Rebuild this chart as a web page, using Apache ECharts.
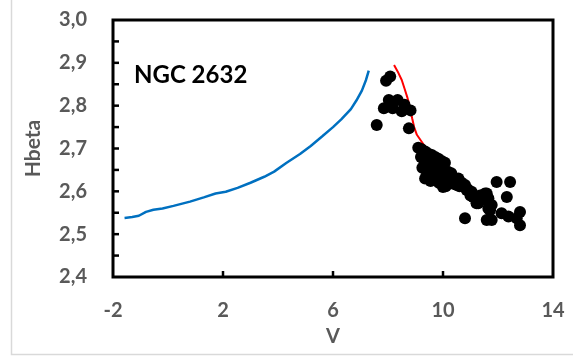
<!DOCTYPE html>
<html>
<head>
<meta charset="utf-8">
<script src="https://cdn.jsdelivr.net/npm/echarts@6/dist/echarts.min.js"></script>
<style>
  html, body { margin: 0; padding: 0; background: #ffffff; }
  #chart { width: 573px; height: 357px; }
</style>
</head>
<body>
<div id="chart"></div>
<script>
// Isochrone (blue) for the upper main sequence: V, Hbeta
const isochroneV = [-1.58, -1.30, -1.06, -0.80, -0.53, -0.20, 0.20, 0.80, 1.30, 1.73, 2.10, 2.53, 3.00, 3.50, 3.86, 4.30, 4.80, 5.19, 5.60, 6.00, 6.30, 6.65, 6.85, 7.05, 7.20, 7.30];
const isochroneH = [2.538, 2.540, 2.543, 2.552, 2.557, 2.560, 2.566, 2.576, 2.586, 2.595, 2.599, 2.608, 2.620, 2.634, 2.646, 2.666, 2.687, 2.706, 2.728, 2.750, 2.768, 2.792, 2.812, 2.835, 2.860, 2.882];

// ZAMS relation (red) shifted to the cluster distance
const zamsV = [8.22, 8.35, 8.50, 8.60, 8.70, 8.80, 8.88, 8.95, 9.05, 9.20, 9.50, 9.80, 10.07];
const zamsH = [2.895, 2.880, 2.860, 2.840, 2.820, 2.795, 2.770, 2.750, 2.732, 2.718, 2.690, 2.660, 2.630];

// Observed cluster members
const starV = [
  7.93, 8.08, 8.03, 8.35, 7.85, 8.17, 8.50, 8.82, 8.60, 7.59, 8.76,
  9.10, 9.22, 9.35, 9.47, 9.59, 9.71, 9.83, 9.95, 10.07,
  9.20, 9.32, 9.44, 9.56, 9.68, 9.80, 9.92, 10.04, 10.18, 10.30,
  9.25, 9.40, 9.55, 9.65, 9.78, 9.90, 10.02, 10.15, 10.28, 10.40,
  9.35, 9.55, 9.70, 9.85, 9.95, 10.10, 10.22, 10.35, 10.50, 10.60,
  9.42, 9.60, 9.75, 10.00, 10.45, 10.56, 10.68, 10.80, 10.90, 11.04, 11.16, 11.28, 11.35, 11.00,
  10.86, 11.10, 11.22, 11.53, 11.65, 11.77, 11.71,
  11.59, 11.65, 11.65, 11.95, 12.44, 12.32, 10.80, 11.59, 11.77, 12.13, 12.38, 12.68, 12.80, 12.80
];
const starH = [
  2.858, 2.868, 2.813, 2.813, 2.794, 2.794, 2.787, 2.789, 2.802, 2.755, 2.747,
  2.702, 2.698, 2.693, 2.688, 2.685, 2.680, 2.676, 2.671, 2.667,
  2.680, 2.672, 2.668, 2.664, 2.660, 2.656, 2.652, 2.650, 2.646, 2.642,
  2.655, 2.650, 2.647, 2.641, 2.638, 2.636, 2.633, 2.630, 2.628, 2.624,
  2.630, 2.624, 2.632, 2.620, 2.622, 2.612, 2.624, 2.618, 2.615, 2.612,
  2.640, 2.672, 2.648, 2.610, 2.630, 2.630, 2.620, 2.615, 2.605, 2.599, 2.585, 2.572, 2.590, 2.590,
  2.603, 2.587, 2.572, 2.595, 2.584, 2.568, 2.556,
  2.595, 2.576, 2.560, 2.622, 2.622, 2.587, 2.537, 2.533, 2.533, 2.549, 2.541, 2.537, 2.552, 2.521
];

// Axis ranges, label spacing and inward tick positions
const xRange = [-2, 14];
const xStep = 4;
const yRange = [2.4, 3.0];
const yStep = 0.1;
const xTickValues = [2, 6, 10];
const yTickValues = [2.45, 2.5, 2.55, 2.6, 2.65, 2.7, 2.75, 2.8, 2.85, 2.9, 2.95];

const pairs = (xs, ys) => xs.map((x, i) => [x, ys[i]]);

const FONT = 'Lato';
const GREY = '#595959';
const TICK_LEN = 6;

// Short inward tick marks drawn on the frame edges; positions come from the axes via api.coord
function tickRenderer(dx, dy) {
  return function (params, api) {
    const p = api.coord([api.value(0), api.value(1)]);
    return {
      type: 'line',
      shape: { x1: p[0], y1: p[1], x2: p[0] + dx, y2: p[1] + dy },
      style: { stroke: '#000000', lineWidth: 2.5 }
    };
  };
}

const chart = echarts.init(document.getElementById('chart'), null, { renderer: 'canvas' });

chart.setOption({
  backgroundColor: '#ffffff',
  animation: false,
  grid: {
    left: 113, top: 20, right: 20, bottom: 80,
    show: true, borderColor: '#000000', borderWidth: 3, backgroundColor: 'transparent'
  },
  xAxis: {
    type: 'value',
    min: xRange[0], max: xRange[1], interval: xStep,
    name: 'V',
    nameLocation: 'middle',
    nameGap: 50,
    nameTextStyle: { fontFamily: FONT, fontWeight: 'bold', fontSize: 20, color: GREY },
    axisLine: { show: false, onZero: false },
    splitLine: { show: false },
    axisTick: { show: false },
    axisLabel: {
      margin: 24,
      fontFamily: FONT, fontWeight: 'bold', fontSize: 20, color: GREY
    }
  },
  yAxis: {
    type: 'value',
    min: yRange[0], max: yRange[1], interval: yStep,
    name: 'Hbeta',
    nameLocation: 'middle',
    nameGap: 69,
    nameTextStyle: { fontFamily: FONT, fontWeight: 'bold', fontSize: 21, color: GREY },
    axisLine: { show: false, onZero: false },
    splitLine: { show: false },
    axisTick: { show: false },
    axisLabel: {
      margin: 26,
      formatter: v => v.toFixed(1).replace('.', ','),
      fontFamily: FONT, fontWeight: 'bold', fontSize: 20, color: GREY
    }
  },
  graphic: [
    {
      type: 'rect',
      shape: { x: 11.5, y: -5, width: 575, height: 359.5 },
      style: { fill: 'none', stroke: '#d9d9d9', lineWidth: 1.5 },
      silent: true, z: -10
    },
    {
      type: 'text',
      left: 134, top: 63,
      style: { text: 'NGC 2632', fontFamily: FONT, fontWeight: 'bold', fontSize: 24, fill: '#000000' }
    }
  ],
  series: [
    {
      type: 'line',
      data: pairs(isochroneV, isochroneH),
      showSymbol: false,
      lineStyle: { color: '#0070c0', width: 2.5 },
      z: 2
    },
    {
      type: 'line',
      data: pairs(zamsV, zamsH),
      showSymbol: false,
      lineStyle: { color: '#ff0000', width: 2 },
      z: 2
    },
    {
      type: 'scatter',
      data: pairs(starV, starH),
      symbol: 'circle',
      symbolSize: 12,
      itemStyle: { color: '#000000', opacity: 1 },
      z: 3
    },
    {
      // ticks along the left edge (Hbeta)
      type: 'custom',
      silent: true,
      clip: false,
      data: yTickValues.map(v => [xRange[0], v]),
      renderItem: tickRenderer(TICK_LEN, 0),
      z: 4
    },
    {
      // ticks along the bottom edge (V)
      type: 'custom',
      silent: true,
      clip: false,
      data: xTickValues.map(v => [v, yRange[0]]),
      renderItem: tickRenderer(0, -TICK_LEN),
      z: 4
    }
  ]
});
</script>
</body>
</html>
